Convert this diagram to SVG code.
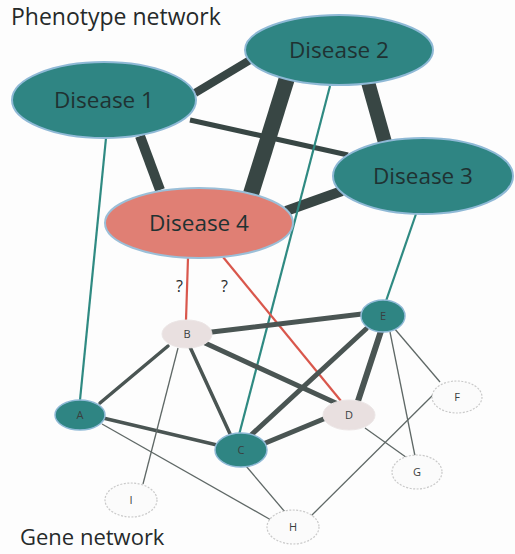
<svg xmlns="http://www.w3.org/2000/svg" width="515" height="554" viewBox="0 0 515 554">
<style>
.t{font-family:"Open Sans","Liberation Sans",sans-serif;fill:#262a2a}
.title{font-size:23px}
.dl{font-size:22.5px;text-anchor:middle;fill:#1f3232}
.gl{font-size:11px;text-anchor:middle;fill:#3a4040}
.ph{stroke:#384644;stroke-linecap:butt}
.gn{stroke:#4a5553;stroke-linecap:round}
.thin{stroke:#5f6866;stroke-width:1.3}
.tl{stroke:#2f8a82;stroke-width:2.2}
.rd{stroke:#d9574c;stroke-width:2.2}
.dis{fill:#2f8583;stroke:#8fb9d6;stroke-width:2}
.d4{fill:#e07f74;stroke:#9bbfd8;stroke-width:2}
.gt{fill:#2f8583;stroke:#8fb9d6;stroke-width:1.5}
.gg{fill:#e9e0e0;stroke:#ece6e6;stroke-width:1}
.gw{fill:#fbfbfb;stroke:#c9c9c9;stroke-width:1.2;stroke-dasharray:2 1.5}
</style>
<rect width="515" height="554" fill="#fdfdfd"/>
<text class="t title" x="11" y="25">Phenotype network</text>
<text class="t" x="20" y="545" font-size="22">Gene network</text>
<g id="connectors">
<line class="ph" x1="195" y1="93" x2="250" y2="60" stroke-width="8"/>
<line class="ph" x1="190" y1="120" x2="348" y2="155" stroke-width="5"/>
<line class="ph" x1="140" y1="136" x2="160" y2="190" stroke-width="10"/>
<line class="ph" x1="287" y1="78" x2="250" y2="197" stroke-width="16"/>
<line class="ph" x1="368" y1="82" x2="386" y2="146" stroke-width="14"/>
<line class="ph" x1="342" y1="191" x2="286" y2="211" stroke-width="10"/>
<line class="tl" x1="106" y1="138" x2="80" y2="400"/>
<line class="tl" x1="330" y1="86" x2="239" y2="435"/>
<line class="tl" x1="416" y1="214" x2="386" y2="301"/>
<line class="rd" x1="188" y1="258" x2="186" y2="320"/>
<line class="rd" x1="223" y1="257" x2="341" y2="401"/>
<line class="gn" x1="212" y1="332" x2="362" y2="314" stroke-width="5"/>
<line class="gn" x1="168" y1="346" x2="100" y2="403" stroke-width="3.5"/>
<line class="gn" x1="190" y1="347" x2="231" y2="436" stroke-width="3.5"/>
<line class="gn" x1="205" y1="343" x2="338" y2="404" stroke-width="5"/>
<line class="gn" x1="103" y1="418" x2="217" y2="445" stroke-width="3.5"/>
<line class="gn" x1="250" y1="436" x2="366" y2="329" stroke-width="5"/>
<line class="gn" x1="263" y1="444" x2="326" y2="418" stroke-width="5"/>
<line class="gn" x1="381" y1="331" x2="358" y2="401" stroke-width="6"/>
<line class="thin" x1="178" y1="348" x2="143" y2="484"/>
<line class="thin" x1="102" y1="424" x2="271" y2="520"/>
<line class="thin" x1="394" y1="328" x2="440" y2="382"/>
<line class="thin" x1="390" y1="332" x2="415" y2="456"/>
<line class="thin" x1="365" y1="428" x2="410" y2="460"/>
<line class="thin" x1="246" y1="466" x2="285" y2="512"/>
<line class="thin" x1="311" y1="516" x2="435" y2="393"/>
</g>
<text class="t" x="176" y="292" font-size="16">?</text>
<text class="t" x="221" y="292" font-size="16">?</text>
<g id="disease1"><ellipse class="dis" cx="104" cy="100" rx="92" ry="38"/><text class="t dl" x="104" y="108">Disease 1</text></g>
<g id="disease2"><ellipse class="dis" cx="339" cy="50" rx="94" ry="35"/><text class="t dl" x="339" y="58">Disease 2</text></g>
<g id="disease3"><ellipse class="dis" cx="423" cy="176" rx="90" ry="38"/><text class="t dl" x="423" y="184">Disease 3</text></g>
<g id="disease4"><ellipse class="d4" cx="199" cy="223" rx="94" ry="35"/><text class="t dl" x="199" y="231">Disease 4</text></g>
<g id="geneA"><ellipse class="gt" cx="80" cy="415" rx="25" ry="15"/><text class="t gl" x="80" y="419">A</text></g>
<g id="geneB"><ellipse class="gg" cx="187" cy="334" rx="25" ry="14"/><text class="t gl" x="187" y="338">B</text></g>
<g id="geneC"><ellipse class="gt" cx="241" cy="450" rx="26" ry="17"/><text class="t gl" x="241" y="454">C</text></g>
<g id="geneD"><ellipse class="gg" cx="349" cy="415" rx="26" ry="15"/><text class="t gl" x="349" y="419">D</text></g>
<g id="geneE"><ellipse class="gt" cx="383" cy="316" rx="22" ry="16"/><text class="t gl" x="383" y="320">E</text></g>
<g id="geneF"><ellipse class="gw" cx="457" cy="397" rx="25" ry="16"/><text class="t gl" x="457" y="401">F</text></g>
<g id="geneG"><ellipse class="gw" cx="417" cy="472" rx="25" ry="17"/><text class="t gl" x="417" y="476">G</text></g>
<g id="geneH"><ellipse class="gw" cx="293" cy="527" rx="26" ry="17"/><text class="t gl" x="293" y="531">H</text></g>
<g id="geneI"><ellipse class="gw" cx="131" cy="500" rx="26" ry="17"/><text class="t gl" x="131" y="504">I</text></g>
</svg>
